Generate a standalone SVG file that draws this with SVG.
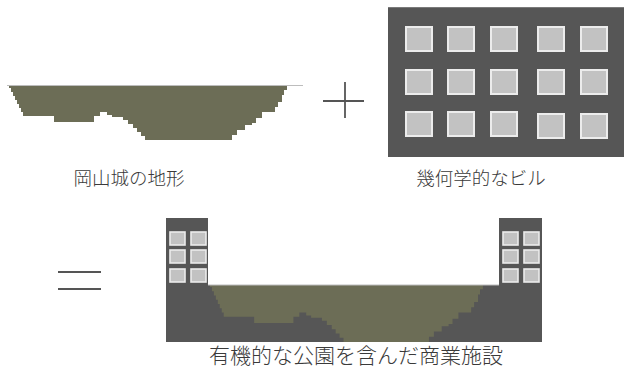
<svg xmlns="http://www.w3.org/2000/svg" xmlns:xlink="http://www.w3.org/1999/xlink" width="625" height="370" viewBox="0 0 625 370">
  <style>
    .terrain { fill: #6c6d56; }
    .rim { stroke: #bdbdbd; stroke-width: 1; fill: none; }
    .block { fill: #565656; }
    .win { fill: #c2c2c2; stroke: #ececec; stroke-width: 2; }
    .win-s { fill: #c2c2c2; stroke: #ececec; stroke-width: 1.6; }
    .op { stroke: #555555; stroke-width: 1.8; fill: none; }
    .label { font-family: "Noto Sans CJK JP", "Noto Sans", sans-serif; font-weight: 300; fill: #3a3a3a; text-anchor: middle; }
  </style>
  <defs>
    <!-- stepped cross-section of the castle hill -->
    <path id="hill" d="M7,86 H287 V90 H284 V95 H282 V102 H278 V107 H275 V112 H262 V118 H256 V123 H252 V125 H245 V130 H237 V135 H232 V140 H145 V136 H141 V132 H137 V128 H133 V124 H128 V120 H123 V117 H112 V115 H107 V112 H100 V116 H94 V122 H54 V116 H23 V112 H21 V108 H19 V104 H17 V100 H15 V96 H13 V92 H11 V88 H9 V86 Z"/>
  </defs>

  <!-- castle terrain -->
  <g id="terrain">
    <use xlink:href="#hill" class="terrain"/>
    <line class="rim" x1="7" y1="85.5" x2="303" y2="85.5"/>
    <text class="label" x="129" y="185" font-size="18.5">岡山城の地形</text>
  </g>

  <!-- plus sign -->
  <g id="plus">
    <line class="op" x1="323" y1="101" x2="364" y2="101"/>
    <line class="op" x1="345" y1="82" x2="345" y2="118"/>
  </g>

  <!-- grid building -->
  <g id="building">
    <rect class="block" x="388" y="7" width="236" height="150"/>
    <line x1="388" y1="7.5" x2="624" y2="7.5" stroke="#7a7a7a" stroke-width="1"/>
    <g>
      <rect class="win" x="406" y="27" width="26" height="24"/>
      <rect class="win" x="448" y="27" width="26" height="24"/>
      <rect class="win" x="491" y="27" width="26" height="24"/>
      <rect class="win" x="538" y="27" width="26" height="24"/>
      <rect class="win" x="581" y="27" width="26" height="24"/>
      <rect class="win" x="406" y="70" width="26" height="24"/>
      <rect class="win" x="448" y="70" width="26" height="24"/>
      <rect class="win" x="491" y="70" width="26" height="24"/>
      <rect class="win" x="538" y="70" width="26" height="24"/>
      <rect class="win" x="581" y="70" width="26" height="24"/>
      <rect class="win" x="406" y="112" width="26" height="24"/>
      <rect class="win" x="448" y="112" width="26" height="24"/>
      <rect class="win" x="491" y="112" width="26" height="24"/>
      <rect class="win" x="538" y="114" width="26" height="24"/>
      <rect class="win" x="581" y="114" width="26" height="24"/>
    </g>
    <text class="label" x="481" y="185" font-size="18.5">幾何学的なビル</text>
  </g>

  <!-- equals sign -->
  <g id="equals">
    <line class="op" x1="58" y1="272" x2="101" y2="272"/>
    <line class="op" x1="58" y1="289" x2="101" y2="289"/>
  </g>

  <!-- combined: commercial complex with the park in the hollow -->
  <g id="complex">
    <path class="block" d="M166,218 H208 V285 H499 V218 H542 V342 H166 Z"/>
    <use xlink:href="#hill" class="terrain" transform="translate(208,285) scale(0.982,1.055) translate(-7,-86)"/>
    <line class="rim" x1="208" y1="285" x2="499" y2="285"/>
    <rect class="win-s" x="170" y="232" width="15" height="13"/>
    <rect class="win-s" x="191" y="232" width="15" height="13"/>
    <rect class="win-s" x="170" y="250" width="15" height="13"/>
    <rect class="win-s" x="191" y="250" width="15" height="13"/>
    <rect class="win-s" x="170" y="269" width="15" height="13"/>
    <rect class="win-s" x="191" y="269" width="15" height="13"/>
    <rect class="win-s" x="503" y="232" width="15" height="13"/>
    <rect class="win-s" x="524" y="232" width="15" height="13"/>
    <rect class="win-s" x="503" y="250" width="15" height="13"/>
    <rect class="win-s" x="524" y="250" width="15" height="13"/>
    <rect class="win-s" x="503" y="269" width="15" height="13"/>
    <rect class="win-s" x="524" y="269" width="15" height="13"/>
    <text class="label" x="356" y="363" font-size="21">有機的な公園を含んだ商業施設</text>
  </g>
</svg>
